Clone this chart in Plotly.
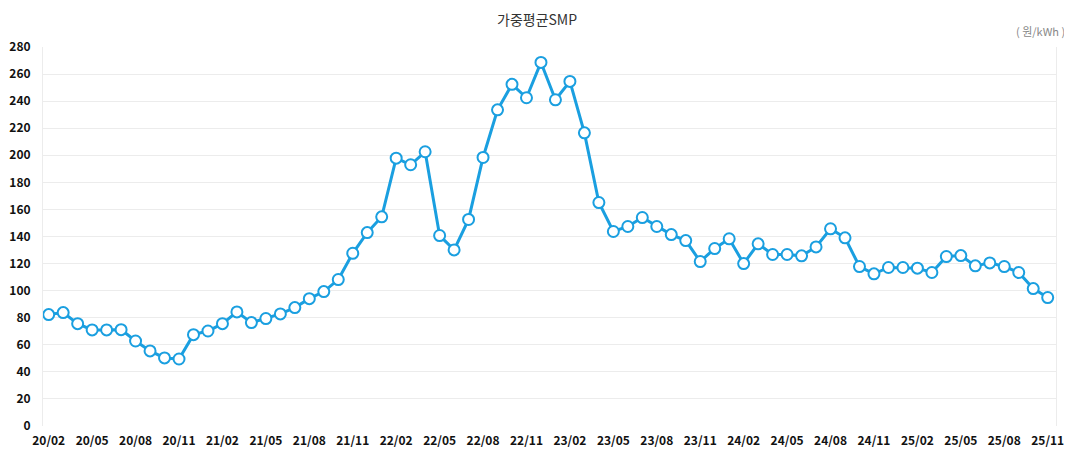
import plotly.graph_objects as go

months = [
    "20/02","20/03","20/04","20/05","20/06","20/07","20/08","20/09","20/10","20/11","20/12",
    "21/01","21/02","21/03","21/04","21/05","21/06","21/07","21/08","21/09","21/10","21/11","21/12",
    "22/01","22/02","22/03","22/04","22/05","22/06","22/07","22/08","22/09","22/10","22/11","22/12",
    "23/01","23/02","23/03","23/04","23/05","23/06","23/07","23/08","23/09","23/10","23/11","23/12",
    "24/01","24/02","24/03","24/04","24/05","24/06","24/07","24/08","24/09","24/10","24/11","24/12",
    "25/01","25/02","25/03","25/04","25/05","25/06","25/07","25/08","25/09","25/10","25/11",
]
smp = [
    82.3, 83.8, 75.6, 71.0, 71.0, 71.2, 62.8, 55.5, 50.3, 49.5, 67.5,
    70.2, 75.6, 84.3, 76.4, 79.4, 82.8, 87.5, 94.1, 99.3, 108.2, 127.6, 142.9,
    154.5, 197.9, 193.0, 202.6, 140.7, 130.1, 152.6, 198.4, 233.6, 252.4, 242.5, 268.6,
    241.0, 254.6, 216.6, 165.1, 143.7, 147.4, 154.0, 147.4, 141.4, 137.0, 121.5, 131.1,
    138.3, 120.0, 134.6, 126.7, 126.7, 125.7, 132.3, 145.7, 139.0, 117.8, 112.4, 117.1,
    117.1, 116.6, 113.4, 125.2, 125.9, 118.3, 120.5, 117.8, 113.4, 101.5, 94.9,
]
y_ticks = list(range(0, 281, 20))
x_tick_step = 3

idx = list(range(len(months)))
tick_idx = idx[::x_tick_step]
tick_txt = months[::x_tick_step]

fig = go.Figure()
fig.add_trace(go.Scatter(
    x=idx, y=smp, mode="lines+markers",
    line=dict(color="#1a9fe0", width=3),
    marker=dict(size=11, color="white", line=dict(color="#1a9fe0", width=2)),
    text=months, hovertemplate="%{text}: %{y}<extra></extra>",
    cliponaxis=False,
))

tick_font = dict(family="Noto Sans CJK KR", size=12, color="#111111", weight="bold")

# page has an 8px body margin, so the figure is offset by 8px
OFF = 8
W, H = 1072 - OFF, 455 - OFF
L, T = 43 - OFF, 47 - OFF
R = W - (1056 - OFF)
B = H - (426 - OFF)
PW, PH = W - L - R, H - T - B

fig.update_layout(
    width=W, height=H,
    margin=dict(l=L, r=R, t=T, b=B, autoexpand=False),
    paper_bgcolor="white", plot_bgcolor="white",
    showlegend=False,
    xaxis=dict(
        range=[-0.394, 69.573],
        tickvals=tick_idx, ticktext=tick_txt,
        showgrid=False, zeroline=False,
        showline=False, automargin=False,
        tickfont=tick_font,
        ticks="", ticklabelstandoff=6,
    ),
    yaxis=dict(
        range=[0, 280],
        tickvals=y_ticks,
        showgrid=True, gridcolor="#ececec", gridwidth=1,
        zeroline=False, automargin=False,
        showline=True, linecolor="#ececec", linewidth=1, mirror=True,
        tickfont=tick_font,
        ticks="", ticklabelstandoff=9,
    ),
    annotations=[
        dict(text="가중평균SMP", xref="paper", yref="paper",
             x=(537 - 43) / PW, y=1 + (47 - 8.5) / PH,
             xanchor="center", yanchor="top", showarrow=False,
             borderpad=0,
             font=dict(family="Noto Sans CJK KR", size=14, color="#333333")),
        dict(text="( 원/kWh )", xref="paper", yref="paper",
             x=(1067 - 43) / PW, y=1 + (47 - 31) / PH,
             xanchor="right", yanchor="middle", showarrow=False,
             font=dict(family="Noto Sans CJK KR", size=11, color="#888888")),
    ],
)

fig.write_html("out.html")
